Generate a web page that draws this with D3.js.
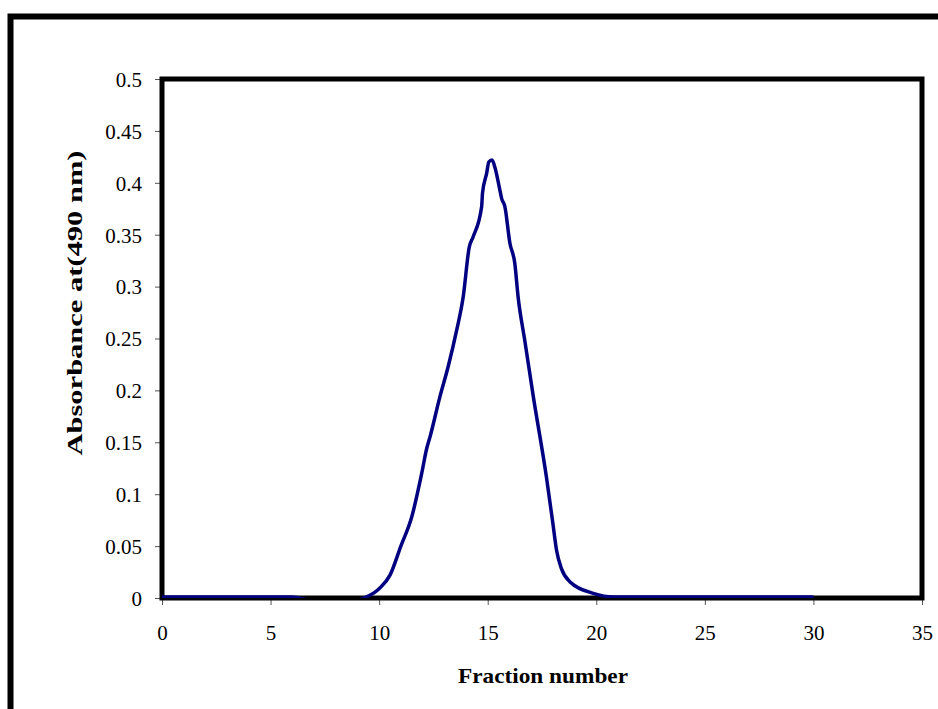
<!DOCTYPE html>
<html>
<head>
<meta charset="utf-8">
<script src="https://cdn.jsdelivr.net/npm/d3@7"></script>
<style>
  body { margin: 0; background: #fff; }
  svg text { font-family: "Liberation Serif", "Times New Roman", serif; fill: #000; }
  .tick line { stroke: #555; stroke-width: 1; }
</style>
</head>
<body>
<div id="chart"></div>
<script>
// fraction number (x positions of the line's vertices)
var fractions = [0, 1, 2, 3, 4, 5, 6, 7, 8, 9, 9.3, 10, 10.5, 11, 11.5, 11.96, 12.19, 12.34,
  12.8, 13.18, 13.57, 13.87, 14.15, 14.33, 14.72, 14.76, 14.95, 15.05, 15.2, 15.33, 15.56,
  15.64, 15.79, 16.02, 16.25, 16.4, 16.7, 17.1, 17.7, 18.0, 18.17, 18.4, 18.78, 19.86, 20.8,
  22, 23, 24, 25, 26, 27, 28, 29, 30];

// absorbance at 490 nm
var absorbance = [0.001, 0.001, 0.001, 0.001, 0.001, 0.001, 0.001, -0.003, -0.003, -0.002,
  0, 0.009, 0.022, 0.05, 0.078, 0.12, 0.144, 0.155, 0.194, 0.223, 0.258, 0.29, 0.338, 0.348,
  0.377, 0.39, 0.409, 0.42, 0.422, 0.415, 0.393, 0.385, 0.377, 0.342, 0.322, 0.29, 0.249,
  0.194, 0.117, 0.072, 0.046, 0.028, 0.0157, 0.0045, 0.001, 0.001, 0.001, 0.001, 0.001,
  0.001, 0.001, 0.001, 0.001, 0.001];

var xTicks = [0, 5, 10, 15, 20, 25, 30, 35];
var yTicks = [0, 0.05, 0.1, 0.15, 0.2, 0.25, 0.3, 0.35, 0.4, 0.45, 0.5];

var width = 938, height = 709;
var plot = { left: 162, right: 922, top: 79, bottom: 598 };

var svg = d3.select('#chart').append('svg')
  .attr('width', width)
  .attr('height', height);

// outer chart border (runs off the right and bottom edges)
svg.append('rect')
  .attr('x', 10.5).attr('y', 16.5)
  .attr('width', 960).attr('height', 760)
  .attr('fill', 'none')
  .attr('stroke', '#000')
  .attr('stroke-width', 6);

var x = d3.scaleLinear().domain([0, 35]).range([plot.left, plot.right]);
var y = d3.scaleLinear().domain([0, 0.5]).range([plot.bottom, plot.top]);

// series is clipped to the plot area, like the spreadsheet does
svg.append('clipPath').attr('id', 'plot-clip')
  .append('rect')
  .attr('x', plot.left).attr('y', plot.top - 10)
  .attr('width', plot.right - plot.left)
  .attr('height', plot.bottom - plot.top + 10);

// axes
var yAxis = svg.append('g')
  .attr('transform', 'translate(' + plot.left + ',0)')
  .call(d3.axisLeft(y).tickValues(yTicks).tickSize(7).tickPadding(13)
    .tickFormat(function(d) { return String(+d.toFixed(2)); }));

var xAxis = svg.append('g')
  .attr('transform', 'translate(0,' + plot.bottom + ')')
  .call(d3.axisBottom(x).tickValues(xTicks).tickSize(7).tickPadding(20)
    .tickFormat(d3.format('d')));

svg.selectAll('.domain').remove();
svg.selectAll('.tick text')
  .style('font-size', '21px')
  .style('font-family', '"Liberation Serif", serif');
yAxis.selectAll('.tick text').attr('dy', '0.35em');

// plot frame
svg.append('rect')
  .attr('x', plot.left).attr('y', plot.top)
  .attr('width', plot.right - plot.left)
  .attr('height', plot.bottom - plot.top)
  .attr('fill', 'none')
  .attr('stroke', '#000')
  .attr('stroke-width', 5);

// the elution line
var points = fractions.map(function(f, i) { return [f, absorbance[i]]; });
var line = d3.line()
  .x(function(d) { return x(d[0]); })
  .y(function(d) { return y(d[1]); })
  .curve(d3.curveMonotoneX);

svg.append('path')
  .datum(points)
  .attr('clip-path', 'url(#plot-clip)')
  .attr('d', line)
  .attr('fill', 'none')
  .attr('stroke', '#000080')
  .attr('stroke-width', 3.5)
  .attr('stroke-linejoin', 'round');

// titles
svg.append('text')
  .attr('x', 543).attr('y', 683)
  .attr('text-anchor', 'middle')
  .attr('textLength', 170)
  .attr('lengthAdjust', 'spacingAndGlyphs')
  .style('font-size', '21px')
  .style('font-weight', 'bold')
  .text('Fraction number');

svg.append('text')
  .attr('transform', 'translate(82,303) rotate(-90)')
  .attr('text-anchor', 'middle')
  .attr('textLength', 305)
  .attr('lengthAdjust', 'spacingAndGlyphs')
  .style('font-size', '21px')
  .style('font-weight', 'bold')
  .text('Absorbance at(490 nm)');
</script>
</body>
</html>
